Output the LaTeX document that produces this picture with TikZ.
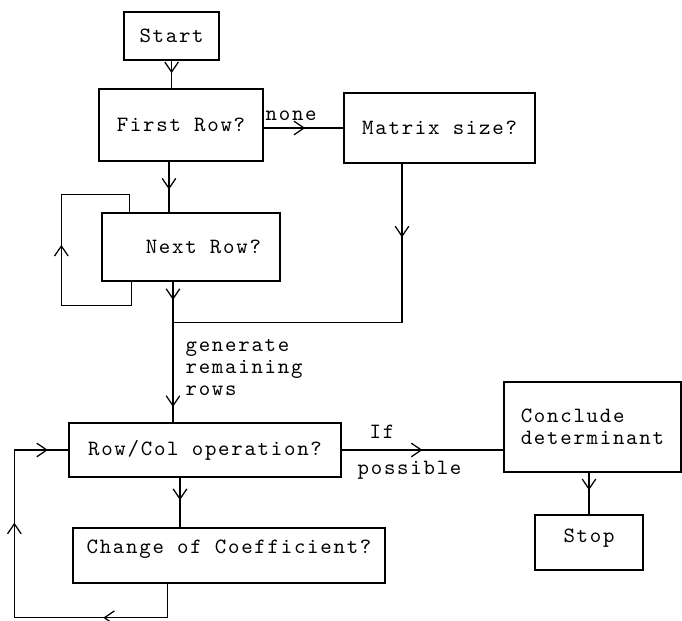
\documentclass[tikz,border=0pt]{standalone}
\usepackage{fontspec}
\setmonofont{lmmono10-regular.otf}[LetterSpace=8]
\usetikzlibrary{arrows.meta,decorations.markings,calc}

\begin{document}
\begin{tikzpicture}[line width=0.9pt,
       block/.style={rectangle,draw,inner sep=2pt,font=\ttfamily\fontsize{15.5}{15.6}\selectfont},
       note/.style={font=\ttfamily\fontsize{15.5}{15.6}\selectfont},
       midarrow/.style={postaction={decorate,decoration={markings,
           mark=at position #1 with {\arrow{Straight Barb[length=2.5mm,width=3.4mm]}}}}}]
   \useasboundingbox (0,0) rectangle (17.05,-15.525);
   % boxes
   \node [block,minimum width=2.375cm,minimum height=1.2cm] (start) at (4.29,-0.9) {Start};
   \node [block,minimum width=4.1cm,minimum height=1.8cm] (first) at (4.525,-3.125) {First Row?};
   \node [block,minimum width=4.775cm,minimum height=1.75cm] (matrix) at (10.99,-3.2) {Matrix size?};
   \node [block,minimum width=4.45cm,minimum height=1.7cm] (next) at (4.775,-6.175) {\hspace*{0.62cm}Next Row?};
   \node [block,minimum width=6.8cm,minimum height=1.35cm] (rowcol) at (5.125,-11.25) {Row/Col operation?};
   \node [block,minimum width=7.8cm,minimum height=1.375cm,text depth=12pt] (change) at (5.725,-13.89) {Change of Coefficient?};
   \node [block,minimum width=4.425cm,minimum height=2.25cm,align=left] (conclude) at (14.81,-10.675) {Conclude\\determinant};
   \node [block,minimum width=2.7cm,minimum height=1.375cm,text depth=10pt] (stop) at (14.725,-13.56) {Stop};
   % connectors
   \draw [midarrow=0.45] (start.south) -- (start.south |- first.north);
   \draw [midarrow=0.52] (first.east |- matrix.west) -- (matrix.west)
       node [note,pos=0,above right,inner sep=1pt,yshift=4pt] {none};
   \draw [midarrow=0.55] ($(first.south)+(-0.3,0)$) coordinate (a) -- (a |- next.north);
   \draw [midarrow=0.53] ($(next.south west)+(0.75,0)$) -- ++(0,-0.6) -- ++(-1.75,0)
       -- ++(0,2.775) -- ++(1.7,0) -- ++(0,-0.475);
   \draw [midarrow=0.13,midarrow=0.89] ($(next.south)+(-0.45,0)$) coordinate (b) -- (b |- rowcol.north)
       node [note,pos=0.61,right=0.3cm,align=left,inner sep=0pt] {generate\\remaining\\rows};
   \coordinate (join) at ($(b)+(0,-1.025)$);
   \draw [midarrow=0.19] ($(matrix.south)+(-0.94,0)$) |- (join);
   \draw [midarrow=0.5] (rowcol.east) -- (rowcol.east -| conclude.west)
       node [note,pos=0.25,above=0.15cm] {If}
       node [note,pos=0.42,below=0.15cm] {possible};
   \draw [midarrow=0.42] (stop.north |- conclude.south) -- (stop.north);
   \draw [midarrow=0.45] ($(rowcol.south)+(-0.625,0)$) coordinate (c) -- (c |- change.north);
   \draw [midarrow=0.24,midarrow=0.69,midarrow=0.95] ($(change.south west)+(2.375,0)$) -- ++(0,-0.85)
       -| ($(rowcol.west)+(-1.35,0)$) -- (rowcol.west);
\end{tikzpicture}
\end{document}
